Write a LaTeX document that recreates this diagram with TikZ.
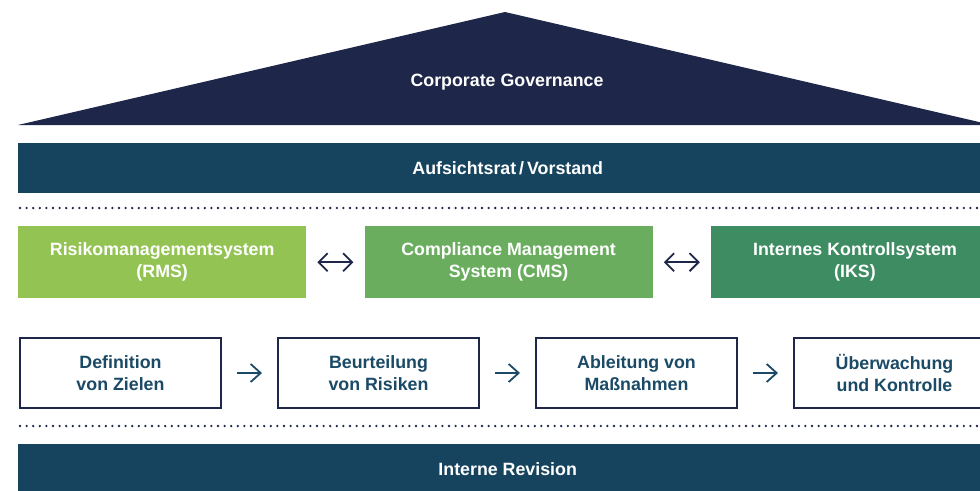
\documentclass[tikz,border=0pt]{standalone}
\usepackage{fontspec}
\setmainfont{Liberation Sans}
\usetikzlibrary{arrows.meta, positioning}
\definecolor{govnavy}{HTML}{1E2649}
\definecolor{barteal}{HTML}{16445F}
\definecolor{rmsgreen}{HTML}{93C453}
\definecolor{cmsgreen}{HTML}{6AAD5E}
\definecolor{iksgreen}{HTML}{3E8C62}
\definecolor{steptext}{HTML}{1A4A66}

\begin{document}
\begin{tikzpicture}[x=1pt, y=-1pt,
        every node/.style={font=\fontsize{17.8}{22}\selectfont\bfseries, align=center},
        bar/.style={rectangle, fill=barteal, text=white, minimum width=979pt, minimum height=50pt, anchor=north west, inner sep=0pt},
        system/.style={rectangle, text=white, minimum width=288pt, minimum height=72pt, anchor=north west, inner sep=0pt},
        stepbox/.style={rectangle, draw=govnavy, line width=2pt, fill=white, text=steptext, minimum width=201pt, minimum height=70pt, anchor=north west, inner sep=0pt},
        link/.style={draw, {Straight Barb[length=9pt, width=18pt]}-{Straight Barb[length=9pt, width=18pt]}, line width=1.8pt, govnavy, shorten >=11pt, shorten <=11pt},
        flow/.style={draw, -{Straight Barb[length=10pt, width=18pt]}, line width=1.8pt, steptext, shorten >=15pt, shorten <=15pt},
        sep/.style={draw, line width=2.6pt, dash pattern=on 0pt off 6.6pt, line cap=round, govnavy},
        node distance=58pt and 55pt
        ]
        \clip (0,0) rectangle (980,490);

        % Roof
        \coordinate (roof left) at (18,125);
        \coordinate (roof top) at (505,12);
        \coordinate (roof right) at (992,125);
        \fill[govnavy] (roof left) -- (roof top) -- (roof right) -- cycle;
        \node (gov) [text=white] at (507,82) {Corporate Governance};

        % Nodes
        \node (board) [bar] at (18,143) {Aufsichtsrat\,/\,Vorstand};
        \node (rms) [system, fill=rmsgreen] at (18,226) {Risikomanagementsystem\\(RMS)};
        \node (cms) [system, fill=cmsgreen, right=58pt of rms] {Compliance Management\\System (CMS)};
        \node (iks) [system, fill=iksgreen, right=58pt of cms] {Internes Kontrollsystem\\(IKS)};
        \node (ziele) [stepbox] at (19,337) {Definition\\von Zielen};
        \node (risiken) [stepbox, right=of ziele] {Beurteilung\\von Risiken};
        \node (massnahmen) [stepbox, right=of risiken] {Ableitung von\\Maßnahmen};
        \node (kontrolle) [stepbox, right=of massnahmen] {Überwachung\\und Kontrolle};
        \node (revision) [bar] at (18,444) {Interne Revision};

        % Separators
        \coordinate (sep1 start) at (20,208);
        \coordinate (sep1 end) at (980,208);
        \coordinate (sep2 start) at (20,426);
        \coordinate (sep2 end) at (980,426);
        \draw [sep] (sep1 start) -- (sep1 end);
        \draw [sep] (sep2 start) -- (sep2 end);

        % Arrows
        \draw [link] (rms) -- (cms);
        \draw [link] (cms) -- (iks);
        \draw [flow] (ziele) -- (risiken);
        \draw [flow] (risiken) -- (massnahmen);
        \draw [flow] (massnahmen) -- (kontrolle);

    \end{tikzpicture}
\end{document}
